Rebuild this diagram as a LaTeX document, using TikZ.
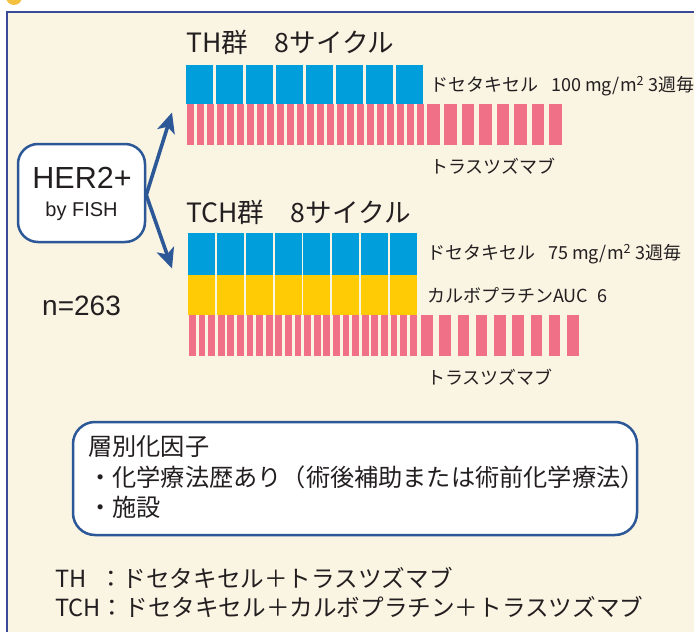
\documentclass[tikz,border=0pt]{standalone}
\usepackage{fontspec}
\setmainfont{Noto Sans CJK JP}
\newfontfamily\latinfont{Liberation Sans}
\usetikzlibrary{arrows.meta}
\definecolor{cream}{HTML}{FAF4E3}
\definecolor{framenavy}{HTML}{3A4A96}
\definecolor{arrowblue}{HTML}{2C5897}
\definecolor{docblue}{HTML}{009FDB}
\definecolor{carboyellow}{HTML}{FFCB05}
\definecolor{traspink}{HTML}{F07087}
\definecolor{dotyellow}{HTML}{F4C040}
\definecolor{ink}{HTML}{231F20}
\tikzset{
  title/.style={anchor=west, inner sep=0pt, text=ink, font=\fontsize{26.6}{30}\selectfont},
  lbl/.style={anchor=west, inner sep=0pt, text=ink, font=\fontsize{18}{22}\selectfont},
  body/.style={anchor=west, inner sep=0pt, text=ink, font=\fontsize{24.2}{28}\selectfont},
  foot/.style={anchor=west, inner sep=0pt, text=ink, font=\fontsize{23.6}{26}\selectfont},
  roundbox/.style={draw=arrowblue, line width=2.5pt, fill=white, inner sep=0pt},
  arr/.style={draw=arrowblue, line width=3.6pt, -{Stealth[length=20pt,width=18pt,inset=5pt]}},
}
\begin{document}
\begin{tikzpicture}[x=1pt,y=-1pt]
\useasboundingbox (0,0) rectangle (694,632);
\clip (0,0) rectangle (694,632);
\fill[white] (0,0) rectangle (694,632);
\fill[cream] (7,12) rectangle (694,632);
\fill[dotyellow] (14,-3) circle (8);
\draw[framenavy, line width=1.6pt] (7,632) -- (7,12) -- (694,12);

% TH group
\node[title] (thTitle) at (186,42) {TH群　8サイクル};
\foreach \i in {0,...,7} {
  \fill[docblue] (186+30*\i,65) rectangle (213+30*\i,104);
  \foreach \k in {0,1,2} {
    \fill[traspink] (186.7+30*\i+10*\k,104) rectangle (193.7+30*\i+10*\k,145);
  }
}
\foreach \j in {0,...,7} {
  \fill[traspink] (427+17.43*\j,104) rectangle (439.5+17.43*\j,145);
}
\node[lbl] (thDoc) at (430,86) {ドセタキセル\hspace{13pt}100 mg/m\textsuperscript{2} 3週毎};
\node[lbl] (thTra) at (430,166) {トラスツズマブ};

% TCH group
\node[title] (tchTitle) at (186,212) {TCH群　8サイクル};
\foreach \i in {0,...,7} {
  \fill[docblue] (188.3+28.77*\i,233) rectangle (215.2+28.77*\i,275);
  \fill[carboyellow] (188.3+28.77*\i,275) rectangle (215.2+28.77*\i,315);
}
\foreach \n in {0,...,23} {
  \fill[traspink] (189+9.6*\n,315) rectangle (195.8+9.6*\n,356);
}
\foreach \j in {0,...,8} {
  \fill[traspink] (421+18.25*\j,315) rectangle (432.6+18.25*\j,356);
}
\node[lbl] (tchDoc) at (427,254) {ドセタキセル\hspace{13pt}75 mg/m\textsuperscript{2} 3週毎};
\node[lbl] (tchCarbo) at (427,295) {カルボプラチンAUC\hspace{9pt}6};
\node[lbl] (tchTra) at (427,377) {トラスツズマブ};

% HER2 box and arrows
\node[roundbox, rounded corners=20pt, minimum width=127pt, minimum height=98pt] (her) at (81.5,193) {};
\node[inner sep=0pt, text=ink, font=\latinfont\fontsize{30.5}{34}\selectfont] (herA) at (82,178) {HER2+};
\node[inner sep=0pt, text=ink, font=\latinfont\fontsize{20}{24}\selectfont] (herB) at (81.5,211) {by FISH};
\coordinate (upTip) at (172,112.5);
\coordinate (dnTip) at (172,268.5);
\draw[arr] ([yshift=-2pt]her.east) -- (upTip);
\draw[arr] ([yshift=-2pt]her.east) -- (dnTip);
\node[anchor=west, inner sep=0pt, text=ink, font=\latinfont\fontsize{28}{32}\selectfont] (nval) at (42,306) {n=263};

% stratification box
\node[roundbox, rounded corners=22pt, minimum width=564pt, minimum height=113pt] (strat) at (355,478.5) {};
\node[body] (s1) at (88,447) {層別化因子};
\node[body] (s2) at (88,477) {・化学療法歴あり（術後補助または術前化学療法）};
\node[body] (s3) at (88,507) {・施設};

% legend
\node[foot] (leg1) at (55,578) {\makebox[44pt][l]{TH}：ドセタキセル＋トラスツズマブ};
\node[foot] (leg2) at (55,607) {TCH：ドセタキセル＋カルボプラチン＋トラスツズマブ};
\end{tikzpicture}
\end{document}
